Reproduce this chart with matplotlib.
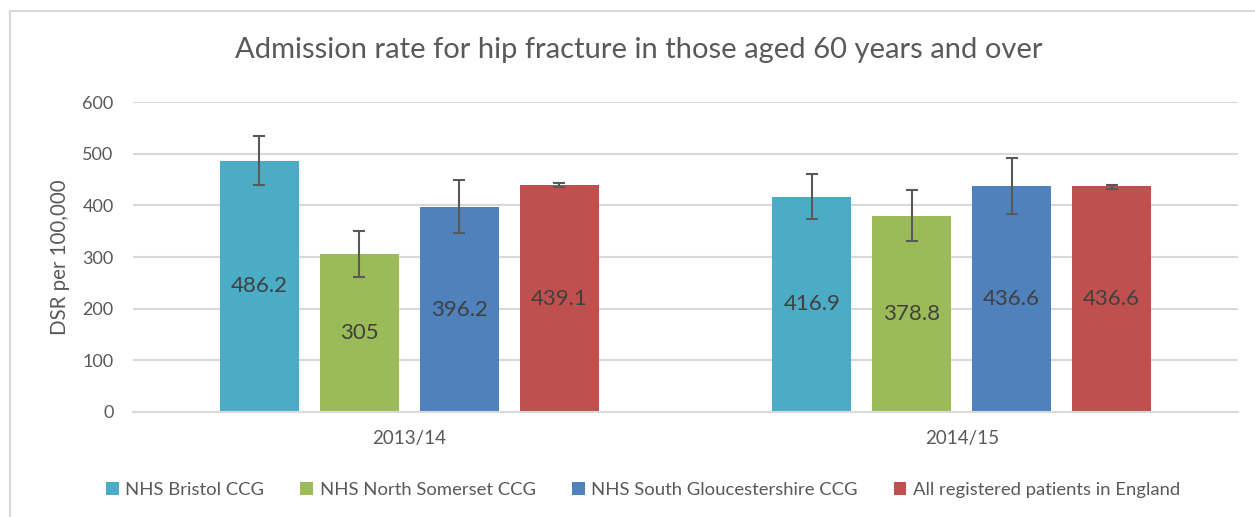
import matplotlib
matplotlib.use("Agg")
import matplotlib.pyplot as plt
from matplotlib.patches import Patch
from matplotlib.lines import Line2D
import numpy as np

plt.rcParams['font.family'] = ['Lato', 'DejaVu Sans']

# ---- data ----
categories = ["2013/14", "2014/15"]
series_names = ["NHS Bristol CCG", "NHS North Somerset CCG",
                "NHS South Gloucestershire CCG", "All registered patients in England"]
bristol = [486.2, 416.9]
north_somerset = [305.0, 378.8]
south_glos = [396.2, 436.6]
england = [439.1, 436.6]
values = [bristol, north_somerset, south_glos, england]

bristol_ci = [(439, 534), (374, 461)]
north_somerset_ci = [(262, 350), (331, 429)]
south_glos_ci = [(346, 450), (384, 492)]
england_ci = [(435, 443), (432, 440)]
cis = [bristol_ci, north_somerset_ci, south_glos_ci, england_ci]

yticks = [0, 100, 200, 300, 400, 500, 600]
colors = ["#4BACC6", "#9BBB59", "#4F81BD", "#C0504D"]
text_col = "#595959"
grid_col = "#D9D9D9"

W, H = 1255, 517
fig = plt.figure(figsize=(W / 100, H / 100), dpi=100)
ax = fig.add_axes([133 / W, 1 - 412 / H, (1238 - 133) / W, (412 - 102) / H])

x = np.arange(len(categories))
step = 100 / 552.5
bw = 79 / 552.5
for i, (vals, ci, col) in enumerate(zip(values, cis, colors)):
    pos = x + (i - 1.5) * step
    vals = np.array(vals)
    lo = vals - np.array([c[0] for c in ci])
    hi = np.array([c[1] for c in ci]) - vals
    ax.bar(pos, vals, width=bw, color=col, zorder=2)
    ax.errorbar(pos, vals, yerr=[lo, hi], fmt='none', ecolor="#595959",
                elinewidth=1.5, capsize=4.3, capthick=1.5, zorder=3)
    for p, v in zip(pos, vals):
        ax.text(p, v / 2, f"{v:g}", ha='center', va='center',
                fontsize=16, color="#404040", zorder=4)

ax.set_xlim(-0.5, 1.5)
ax.set_ylim(0, 600)
ax.set_yticks(yticks)
ax.set_xticks(x)
ax.set_xticklabels(categories)
ax.yaxis.grid(True, color=grid_col, linewidth=1.5, zorder=0)
ax.set_axisbelow(True)
for s in ['top', 'right', 'left']:
    ax.spines[s].set_visible(False)
ax.spines['bottom'].set_color(grid_col)
ax.spines['bottom'].set_linewidth(1.5)
ax.tick_params(axis='both', length=0, colors=text_col)
ax.tick_params(axis='y', labelsize=13, pad=14)
ax.tick_params(axis='x', labelsize=13.5, pad=13)
ax.set_ylabel("DSR per 100,000", fontsize=14.8, color=text_col, labelpad=9)

fig.text(639 / W, 1 - 50 / H, "Admission rate for hip fracture in those aged 60 years and over",
         ha='center', va='center', fontsize=21, color=text_col)

handles = [Patch(facecolor=c, edgecolor='none') for c in colors]
fig.legend(handles, series_names, loc='center', bbox_to_anchor=(643 / W, 1 - 490 / H),
           ncol=4, frameon=False, fontsize=13.3, labelcolor=text_col,
           handlelength=0.7, handleheight=0.7, handletextpad=0.35, columnspacing=1.95)

# chart frame (partially visible)
fig.add_artist(Line2D([10 / W, 10 / W], [0, 1 - 11 / H], color=grid_col, linewidth=1.5,
                      transform=fig.transFigure))
fig.add_artist(Line2D([10 / W, 1], [1 - 11 / H, 1 - 11 / H], color=grid_col, linewidth=1.5,
                      transform=fig.transFigure))

fig.savefig("out.png", dpi=100)
